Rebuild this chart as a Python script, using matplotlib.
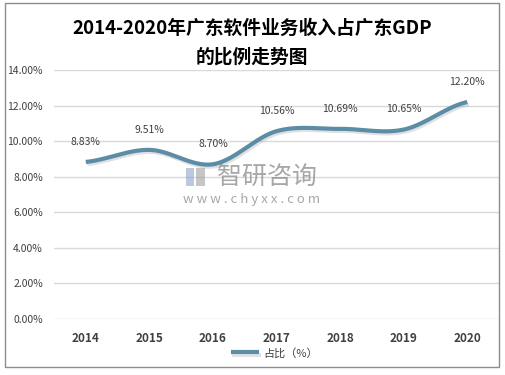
import numpy as np
import matplotlib.pyplot as plt
import matplotlib.patheffects as pe
from matplotlib.patches import Rectangle

plt.rcParams['font.family'] = ['Noto Sans CJK SC', 'DejaVu Sans']

years = ['2014', '2015', '2016', '2017', '2018', '2019', '2020']
share = [8.83, 9.51, 8.70, 10.56, 10.69, 10.65, 12.20]  # 占比（%）
labels = ['8.83%', '9.51%', '8.70%', '10.56%', '10.69%', '10.65%', '12.20%']
yticks = [0, 2, 4, 6, 8, 10, 12, 14]


def smooth(x, y, n=30):
    # catmull-rom, close to excel's smoothed line
    x = np.asarray(x, float); y = np.asarray(y, float)
    px = np.concatenate([[2 * x[0] - x[1]], x, [2 * x[-1] - x[-2]]])
    py = np.concatenate([[y[0]], y, [y[-1]]])
    xs, ys = [], []
    for i in range(1, len(px) - 2):
        t = np.linspace(0, 1, n)
        for p, out in ((px, xs), (py, ys)):
            p0, p1, p2, p3 = p[i - 1], p[i], p[i + 1], p[i + 2]
            m1 = (p2 - p0) / 2; m2 = (p3 - p1) / 2
            h00 = 2 * t**3 - 3 * t**2 + 1; h10 = t**3 - 2 * t**2 + t
            h01 = -2 * t**3 + 3 * t**2; h11 = t**3 - t**2
            out.extend(h00 * p1 + h10 * m1 + h01 * p2 + h11 * m2)
    return np.array(xs), np.array(ys)


fig = plt.figure(figsize=(5.05, 3.75), dpi=100)
fig.patches.append(Rectangle((5 / 505, 1 - 367 / 375), 494 / 505, 364 / 375,
                             transform=fig.transFigure, fill=False,
                             edgecolor='#8c8c8c', lw=1))
ax = fig.add_axes([54 / 505, 1 - 319 / 375, 445 / 505, 249 / 375])

xi = np.arange(len(years))
sx, sy = smooth(xi, share)
ax.plot(sx, sy, color='#5b8ea6', lw=3, solid_capstyle='butt',
        path_effects=[pe.SimpleLineShadow(offset=(1, -1.5), shadow_color='#aaaaaa', alpha=0.35),
                      pe.Normal()], label='占比（%）', zorder=3)

for i, (v, s) in enumerate(zip(share, labels)):
    ax.annotate(s, (i, v), xytext=(0, 11), textcoords='offset points',
                ha='center', va='bottom', fontsize=7.5, color='#404040')

ax.set_xlim(-0.5, len(years) - 0.5)
ax.set_ylim(0, 14)
ax.set_yticks(yticks)
ax.set_yticklabels(['%.2f%%' % t for t in yticks], fontsize=7.5, color='#404040')
ax.set_xticks(xi)
ax.set_xticklabels(years, fontsize=8.5, fontweight='bold', color='#404040')
ax.tick_params(length=0, pad=9)
ax.tick_params(axis='y', pad=8)
ax.grid(axis='y', color='#d9d9d9', lw=1)
ax.set_axisbelow(True)
for sp in ax.spines.values():
    sp.set_visible(False)

fig.text(252 / 505, 1 - 28 / 375, '2014-2020年广东软件业务收入占广东GDP', ha='center', va='center',
         fontsize=13.5, fontweight='bold', color='black')
fig.text(252 / 505, 1 - 57 / 375, '的比例走势图', ha='center', va='center',
         fontsize=13.5, fontweight='bold', color='black')

# watermark
fig.patches.append(Rectangle((186 / 505, 1 - 186 / 375), 8 / 505, 18 / 375,
                             transform=fig.transFigure, color='#8ea4c8', alpha=0.6, lw=0))
fig.patches.append(Rectangle((196 / 505, 1 - 186 / 375), 9 / 505, 18 / 375,
                             transform=fig.transFigure, color='#a0a0a0', alpha=0.6, lw=0))
fig.text(267 / 505, 1 - 177 / 375, '智研咨询', ha='center', va='center',
         fontsize=18, color='#8a8a8a', alpha=0.75)
fig.text(252 / 505, 1 - 200 / 375, 'w w w . c h y x x . c o m', ha='center', va='center',
         fontsize=9.5, color='#8a8a8a', alpha=0.75)

ax.legend(loc='center', bbox_to_anchor=(220 / 445, (319 - 353) / 249), frameon=False,
          fontsize=8, handlelength=2.6, handletextpad=0.3, labelcolor='#404040')

fig.savefig('out.png', dpi=100)
